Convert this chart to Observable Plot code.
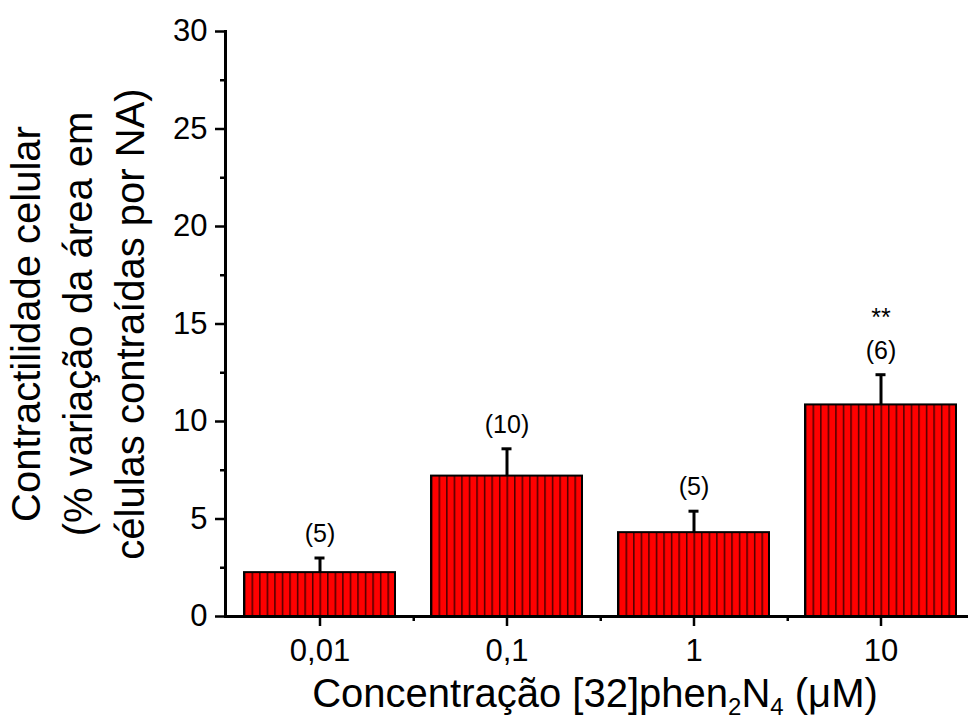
<!DOCTYPE html>
<html><head><meta charset="utf-8">
<script src="https://cdn.jsdelivr.net/npm/d3@7"></script>
<script src="https://cdn.jsdelivr.net/npm/@observablehq/plot@0.6"></script>
<style>
html,body{margin:0;padding:0;background:#fff;overflow:hidden;}
#chart svg{max-width:none !important;display:block;}
</style></head>
<body><div id="chart"></div>
<script>
const categories = ["0,01", "0,1", "1", "10"];
const means = [2.25, 7.2, 4.3, 10.85];
const errors = [0.75, 1.4, 1.1, 1.55];
const nLabels = ["(5)", "(10)", "(5)", "(6)"];
const significance = ["", "", "", "**"];
const yMajorTicks = [0, 5, 10, 15, 20, 25, 30];
const yMinorTicks = [2.5, 7.5, 12.5, 17.5, 22.5, 27.5];
const yTitle = "Contractilidade celular\n(% variação da área em\ncélulas contraídas por NA)";
const xTitleParts = ["Concentração [32]phen", "2", "N", "4", " (μM)"];

const data = categories.map((c, i) => ({c, mean: means[i], top: means[i] + errors[i], n: nLabels[i], sig: significance[i]}));

const font = "'Liberation Sans', Arial, Helvetica, sans-serif";
const plot = Plot.plot({
  width: 975, height: 724,
  marginLeft: 225, marginRight: 0, marginTop: 31, marginBottom: 108,
  style: {fontFamily: font, background: "white", color: "black", overflow: "visible"},
  x: {domain: categories, paddingInner: 0.19, paddingOuter: 0.095},
  y: {domain: [0, 30]},
  marks: [
    Plot.barY(data, {x: "c", y: "mean", fill: "url(#hatch)", stroke: "black", strokeWidth: 2}),
    Plot.ruleX(data, {x: "c", y1: "mean", y2: "top", stroke: "black", strokeWidth: 3}),
    Plot.tickY(data, {x: "c", y: "top", stroke: "black", strokeWidth: 3, insetLeft: 70.5, insetRight: 70.5}),
    Plot.text(data, {x: "c", y: "top", text: "n", dy: -24, fontSize: 25, lineAnchor: "middle"}),
    Plot.text(data, {x: "c", y: "top", text: "sig", dy: -57, fontSize: 25, lineAnchor: "middle"}),
    Plot.ruleX(categories, {x: d => d, y1: 0, y2: 0, dx: 93.75, insetBottom: -5, stroke: "black", strokeWidth: 2.5}),
    Plot.axisX({tickSize: 10, tickPadding: 12, fontSize: 31, strokeWidth: 2.5, label: null}),
    Plot.axisY(yMajorTicks, {tickSize: 10, tickPadding: 8, fontSize: 31, strokeWidth: 2.5, label: null}),
    Plot.axisY(yMinorTicks, {tickSize: 5, text: null, strokeWidth: 2.5, label: null}),
    Plot.ruleY([0], {stroke: "black", strokeWidth: 3}),
    Plot.frame({anchor: "left", stroke: "black", strokeWidth: 3}),
    Plot.text([yTitle], {frameAnchor: "left", dx: -150, rotate: -90, fontSize: 40, lineHeight: 1.3, textAnchor: "middle", lineAnchor: "middle"})
  ]
});

const svg = d3.select(plot);
const defs = svg.insert("defs", ":first-child");
const pat = defs.append("pattern").attr("id", "hatch")
  .attr("patternUnits", "objectBoundingBox").attr("width", 0.05).attr("height", 1);
pat.append("rect").attr("width", 40).attr("height", 2000).attr("fill", "#ff0000");
pat.append("line").attr("x1", 0.75).attr("x2", 0.75).attr("y1", 0).attr("y2", 2000)
  .attr("stroke", "#4a0000").attr("stroke-width", 1.5);

const xr = plot.scale("x").range;
const xt = svg.append("text").attr("x", (xr[0] + xr[1]) / 2 - 5).attr("y", 707)
  .attr("text-anchor", "middle").attr("font-size", 40).attr("font-family", font).attr("fill", "black");
xt.append("tspan").text(xTitleParts[0]);
xt.append("tspan").attr("font-size", 24).attr("dy", 8).text(xTitleParts[1]);
xt.append("tspan").attr("dy", -8).text(xTitleParts[2]);
xt.append("tspan").attr("font-size", 24).attr("dy", 8).text(xTitleParts[3]);
xt.append("tspan").attr("dy", -8).text(xTitleParts[4]);

document.getElementById("chart").appendChild(plot);
</script>
</body></html>
